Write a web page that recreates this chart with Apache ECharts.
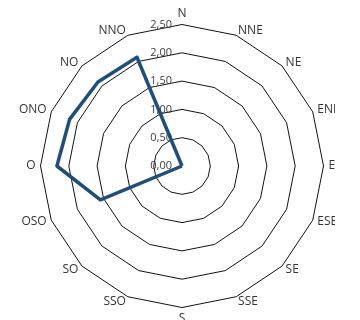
<!DOCTYPE html>
<html><head><meta charset="utf-8">
<script src="https://cdn.jsdelivr.net/npm/echarts@6/dist/echarts.min.js"></script>
<style>html,body{margin:0;padding:0;background:#fff;}#c{width:335px;height:320px;}</style>
</head><body><div id="c"></div>
<script>
// Directions in counter-clockwise order starting from N (top)
const directions = ['N','NNO','NO','ONO','O','OSO','SO','SSO','S','SSE','SE','ESE','E','ENE','NE','NNE'];
const values = [0, 2.08, 2.10, 2.15, 2.21, 1.56, 0, 0, 0, 0, 0, 0, 0, 0, 0, 0];
const axisMin = 0, axisMax = 2.5, splitNum = 5;

const chart = echarts.init(document.getElementById('c'), null, {renderer:'canvas'});
const indicator = directions.map((d, i) => {
  const o = {name: d, min: axisMin, max: axisMax};
  if (i === 0) o.axisLabel = {show: true};
  return o;
});
chart.setOption({
  animation: false,
  radar: {
    center: [182, 166],
    radius: 141.5,
    startAngle: 90,
    splitNumber: splitNum,
    shape: 'polygon',
    indicator: indicator,
    nameGap: 5,
    axisName: {color: '#333', fontFamily: 'Open Sans', fontSize: 12},
    axisLine: {show: false},
    axisTick: {show: false},
    splitArea: {show: false},
    splitLine: {lineStyle: {color: '#111', width: 1}},
    axisLabel: {show: false, color: '#404040', fontFamily: 'Open Sans', fontSize: 11,
      margin: 10,
      formatter: v => Number(v).toFixed(2).replace('.', ',')}
  },
  series: [{
    type: 'radar',
    symbol: 'none',
    lineStyle: {color: '#1F4E79', width: 3.5},
    data: [{value: values}]
  }]
});
</script></body></html>
